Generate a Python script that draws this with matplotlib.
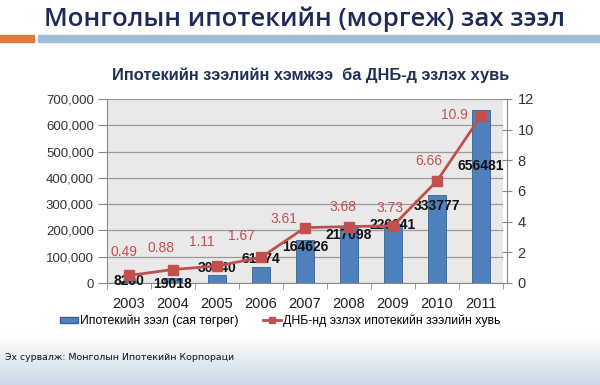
import numpy as np
import matplotlib
matplotlib.use("Agg")
import matplotlib.pyplot as plt
from matplotlib.patches import Rectangle
from matplotlib.lines import Line2D

# data
years = ["2003", "2004", "2005", "2006", "2007", "2008", "2009", "2010", "2011"]
loans = [8200, 19018, 30840, 61874, 164626, 217098, 226041, 333777, 656481]
gdp_share = [0.49, 0.88, 1.11, 1.67, 3.61, 3.68, 3.73, 6.66, 10.9]
gdp_labels = ["0.49", "0.88", "1.11", "1.67", "3.61", "3.68", "3.73", "6.66", "10.9"]

# label nudges in pixels (layout only)
bar_lbl_dy = [0, -6, 7, 8, -7, -9, -1, -11, -56]
line_lbl_off = [(-5, 23), (-12, 22), (-15, 24), (-20, 21), (-21, 9),
                (-6, 20), (-3, 18), (-8, 20), (-27, 1)]

W, H = 600, 385
BLUE = "#4f81bd"
RED = "#c0504d"
NAVY = "#1c2a5a"

plt.rcParams['font.family'] = ['Liberation Sans', 'DejaVu Sans']

fig = plt.figure(figsize=(W / 100, H / 100), dpi=100)
fig.patch.set_facecolor("white")

# soft sky at the bottom
bg = fig.add_axes([0, 0, 1, 50 / H], zorder=-5)
grad = np.linspace(0, 1, 100).reshape(-1, 1)
bg.imshow(grad, aspect="auto", cmap=matplotlib.colors.LinearSegmentedColormap.from_list(
    "sky", ["#c9d9e6", "#ffffff"]), extent=[0, 1, 0, 1], origin="lower")
bg.axis("off")

# headline + rules
fig.text(305 / W, 1 - 26 / H, "Монголын ипотекийн (моргеж) зах зээл", ha="center", va="baseline",
         fontsize=18.5, color=NAVY, family=['Open Sans', 'DejaVu Sans'], fontweight="semibold")
fig.patches.append(Rectangle((0, 1 - 42 / H), 34 / W, 7 / H, transform=fig.transFigure,
                             color="#e07b3c", zorder=1))
fig.patches.append(Rectangle((38 / W, 1 - 42 / H), 562 / W, 7 / H, transform=fig.transFigure,
                             color="#a3bdd6", zorder=1))

fig.text(311 / W, 1 - 75 / H, "Ипотекийн зээлийн хэмжээ  ба ДНБ-д эзлэх хувь", ha="center",
         va="center", fontsize=11.8, fontweight="bold", color="#1f3057")

ax = fig.add_axes([107 / W, 1 - 283 / H, 396 / W, 184 / H])
ax.set_facecolor("#e9e9e9")
x = np.arange(len(years))
ax.bar(x, loans, width=0.4, color=BLUE, edgecolor="#3a5f8f", linewidth=0.6, zorder=3)
ax.set_ylim(0, 700000)
ax.set_xlim(-0.5, len(years) - 0.5)
ax.set_yticks(np.arange(0, 700001, 100000))
ax.set_yticklabels([f"{v:,}" for v in range(0, 700001, 100000)], fontsize=9.5, color="#333333")
ax.set_xticks(x)
ax.set_xticklabels(years, fontsize=10.5, color="#222222")
ax.set_xticks(np.arange(-0.5, len(years), 1), minor=True)
ax.tick_params(axis="x", which="major", length=0, pad=10)
ax.tick_params(axis="x", which="minor", length=4, color="#888888", direction="out")
ax.tick_params(axis="y", length=6.5, color="#888888", pad=3)
ax.grid(axis="y", color="#9a9a9a", linewidth=0.9, zorder=0)
for s in ["top", "right"]:
    ax.spines[s].set_visible(False)
ax.spines["left"].set_color("#888888")
ax.spines["bottom"].set_color("#888888")

for i, v in enumerate(loans):
    ax.annotate(str(v), (x[i], v), xytext=(0, bar_lbl_dy[i]), textcoords="offset pixels",
                ha="center", va="center", fontsize=10, fontweight="bold", color="#111111", zorder=6)

ax2 = ax.twinx()
ax2.plot(x, gdp_share, color=RED, linewidth=2, marker="s", markersize=6.5, zorder=5)
ax2.set_ylim(0, 12)
ax2.set_yticks(range(0, 13, 2))
ax2.tick_params(axis="y", labelsize=10.5, labelcolor="#333333", length=7, color="#888888",
                direction="inout", pad=4)
for s in ["top", "left", "bottom"]:
    ax2.spines[s].set_visible(False)
ax2.spines["right"].set_color("#888888")
ax2.spines["right"].set_position(("outward", 3))
for i, v in enumerate(gdp_share):
    ax2.annotate(gdp_labels[i], (x[i], v), xytext=line_lbl_off[i], textcoords="offset pixels",
                 ha="center", va="center", fontsize=10, color="#c0504d")

handles = [Rectangle((0, 0), 1, 1, facecolor=BLUE, edgecolor="#3a5f8f"),
           Line2D([0], [0], color=RED, linewidth=2, marker="s", markersize=5)]
fig.legend(handles, ["Ипотекийн зээл (сая төгрөг)", "ДНБ-нд эзлэх ипотекийн зээлийн хувь"],
           loc="center", bbox_to_anchor=(280 / W, 1 - 321 / H), ncol=2, frameon=False,
           fontsize=8.8, handlelength=1.5, handleheight=0.45, columnspacing=2.0,
           handletextpad=0.15, borderpad=0, borderaxespad=0)

fig.text(5 / W, 1 - 357 / H, "Эх сурвалж: Монголын Ипотекийн Корпораци", ha="left", va="center",
         fontsize=6.75, color="#111111", family=['Liberation Sans Narrow', 'DejaVu Sans'])

fig.savefig("out.png", dpi=100)
